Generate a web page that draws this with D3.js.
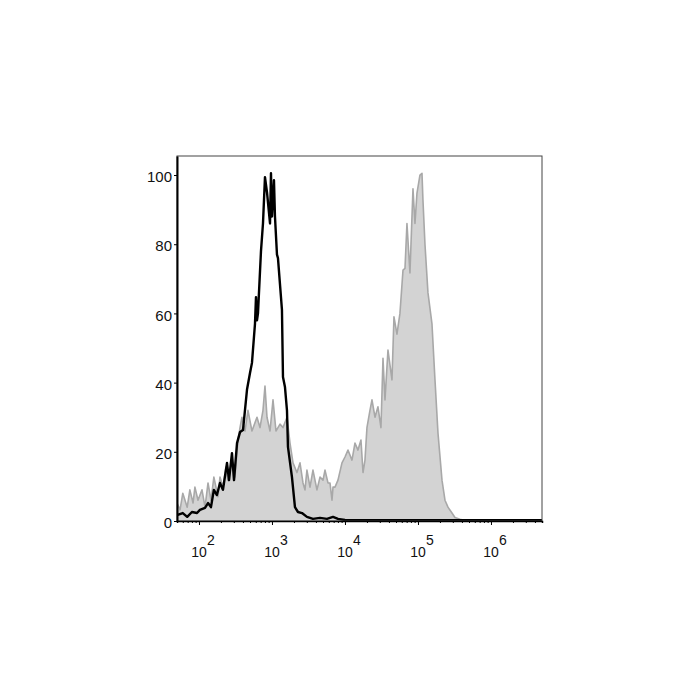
<!DOCTYPE html>
<html>
<head>
<meta charset="utf-8">
<script src="https://cdn.jsdelivr.net/npm/d3@7"></script>
<style>
	body { margin: 0; background: #fff; }
	text { font-family: "Liberation Sans", Arial, sans-serif; fill: #111; }
</style>
</head>
<body>
<div id="chart"></div>
<script>
// control (unstained) histogram - black line
var ctrlX = [50, 60, 69, 80, 94, 103, 121, 133, 146, 160, 176, 194, 213, 242, 258, 283, 302, 332, 365, 401,
	455, 500, 532, 585, 604, 623, 643, 707, 753, 802, 855, 882, 940, 969, 1000, 1065, 1099, 1171, 1208, 1370,
	1415, 1507, 1605, 1656, 1878, 2065, 2271, 2576, 3013, 3644, 4549, 5667, 6853, 8020, 10000, 16030, 56600,
	274000, 1330000, 5000000];
var ctrlY = [1.7, 2.3, 1.2, 2.6, 2.3, 3.2, 3.8, 5.2, 4, 9, 7.5, 11, 9, 16.8, 11.8, 19.6, 11.8, 22.5, 25.7, 26.3,
	38, 42.8, 45.7, 57, 64.7, 58, 60, 78, 86, 99.4, 95, 92, 86, 100.5, 88, 98.5, 88, 77, 76, 61,
	41.6, 38.7, 32, 21.4, 12.7, 4, 2.6, 2.3, 1.2, 0.6, 0.9, 0.6, 1.2, 0.6, 0.3, 0.2, 0.2,
	0.2, 0.2, 0.2];

// stained histogram - grey filled
var stainX = [50, 55, 60, 69, 75, 83, 88, 97, 110, 121, 133, 146, 160, 182, 194, 213, 234, 249, 283, 311,
	342, 365, 388, 427, 469, 532, 623, 685, 753, 802, 855, 940, 1033, 1134, 1288, 1415, 1605, 1766, 1941, 2199,
	2420, 2660, 2831, 3013, 3318, 3644, 4130, 4549, 5000, 5325, 5851, 6233, 6640, 6853, 7300, 8020, 9100, 10000, 10990, 12470,
	13700, 15070, 16560, 17660, 18790, 20000, 21990, 23440, 25760, 28310, 31110, 33170, 35320, 38820, 44040, 46900, 51540, 56620, 62350, 66370,
	70650, 77630, 85420, 90960, 96900, 106400, 113500, 117000, 124700, 137000, 155500, 171000, 188000, 213300, 234400, 257600, 292400, 321400, 375800, 413000,
	455000, 5000000];
var stainY = [5.2, 3.2, 8, 4, 9, 5.2, 9.8, 6, 9, 4, 11, 6, 12.7, 7, 12.7, 9.8, 15.6, 11.8, 17.6, 12.7,
	23.4, 27, 30, 26, 32, 26, 30, 27, 32, 39, 30, 26, 35, 26, 28, 27, 30, 22.5, 16.8, 14,
	16.8, 11, 9, 14.7, 9.8, 14.7, 9, 12.7, 11.8, 14.7, 11, 11, 6, 9.8, 9.8, 11.8, 16.8, 18.5, 20.5, 17.6,
	22.5, 20.5, 23.4, 14, 17.6, 27, 32, 35, 30, 33, 27, 47, 35, 49.4, 40.8, 59, 54, 60, 72.5, 73,
	86, 71.7, 96, 86, 94.8, 100, 100.5, 92.8, 80, 66, 57, 40.8, 25.4, 11.8, 6, 4, 2.3, 1, 0.5, 0.3,
	0, 0];

var yTicks = [0, 20, 40, 60, 80, 100];
var xDecades = [2, 3, 4, 5, 6];

var margin = { top: 156, right: 158, bottom: 179, left: 177 },
	width = 700 - margin.left - margin.right,
	height = 700 - margin.top - margin.bottom;

var svg = d3.select("#chart").append("svg")
	.attr("width", 700)
	.attr("height", 700);

var g = svg.append("g")
	.attr("transform", "translate(" + margin.left + "," + margin.top + ")");

// log scale for fluorescence, linear for % of max
var x = d3.scaleLog().domain([50, 5000000]).range([0, width]);
var y = d3.scaleLinear().domain([0, 105.5]).range([height, 0]);

var stain = stainX.map(function (v, i) { return { x: v, y: stainY[i] }; });
var ctrl = ctrlX.map(function (v, i) { return { x: v, y: ctrlY[i] }; });

g.append("clipPath").attr("id", "clip")
	.append("rect").attr("width", width).attr("height", height);

var plot = g.append("g").attr("clip-path", "url(#clip)");

// grey area
plot.append("path")
	.datum(stain)
	.attr("fill", "#d3d3d3")
	.attr("stroke", "none")
	.attr("d", d3.area()
		.x(function (d) { return x(d.x); })
		.y0(y(0))
		.y1(function (d) { return y(d.y); }));

plot.append("path")
	.datum(stain)
	.attr("fill", "none")
	.attr("stroke", "#a8a8a8")
	.attr("stroke-width", 1.6)
	.attr("stroke-linejoin", "round")
	.attr("d", d3.line()
		.x(function (d) { return x(d.x); })
		.y(function (d) { return y(d.y); }));

// black control line
plot.append("path")
	.datum(ctrl)
	.attr("fill", "none")
	.attr("stroke", "#000")
	.attr("stroke-width", 2.4)
	.attr("stroke-linejoin", "round")
	.attr("d", d3.line()
		.x(function (d) { return x(d.x); })
		.y(function (d) { return y(d.y); }));

// frame
g.append("rect")
	.attr("width", width)
	.attr("height", height)
	.attr("fill", "none")
	.attr("stroke", "#444")
	.attr("stroke-width", 1);

// y axis
var yAxis = g.append("g")
	.call(d3.axisLeft(y).tickValues(yTicks).tickSize(3).tickPadding(2).tickSizeOuter(0));
yAxis.select(".domain").attr("stroke", "#000").attr("stroke-width", 2);
yAxis.selectAll("text").attr("font-size", 15).attr("dy", "0.45em");

// x axis: minor ticks then major ticks
var minor = [];
xDecades.concat([1]).forEach(function (e) {
	for (var k = 2; k < 10; k++) {
		var v = k * Math.pow(10, e);
		if (v > 50 && v < 5000000) minor.push(v);
	}
});
var xMinor = g.append("g")
	.attr("transform", "translate(0," + height + ")")
	.call(d3.axisBottom(x).tickValues(minor).tickSize(2).tickFormat(""));
xMinor.select(".domain").attr("stroke", "#000").attr("stroke-width", 1.5);

var xMajor = g.append("g")
	.attr("transform", "translate(0," + height + ")")
	.call(d3.axisBottom(x).tickValues(xDecades.map(function (e) { return Math.pow(10, e); })).tickSize(4).tickFormat(""));
xMajor.select(".domain").remove();

// decade labels 10^n
var labels = g.append("g").attr("transform", "translate(0," + height + ")");
labels.selectAll(".base")
	.data(xDecades)
	.enter().append("text")
	.attr("class", "base")
	.attr("x", function (e) { return x(Math.pow(10, e)); })
	.attr("y", 36)
	.attr("text-anchor", "middle")
	.attr("font-size", 14)
	.text("10");
labels.selectAll(".sup")
	.data(xDecades)
	.enter().append("text")
	.attr("class", "sup")
	.attr("x", function (e) { return x(Math.pow(10, e)) + 8; })
	.attr("y", 24)
	.attr("font-size", 14)
	.text(function (e) { return e; });
</script>
</body>
</html>
